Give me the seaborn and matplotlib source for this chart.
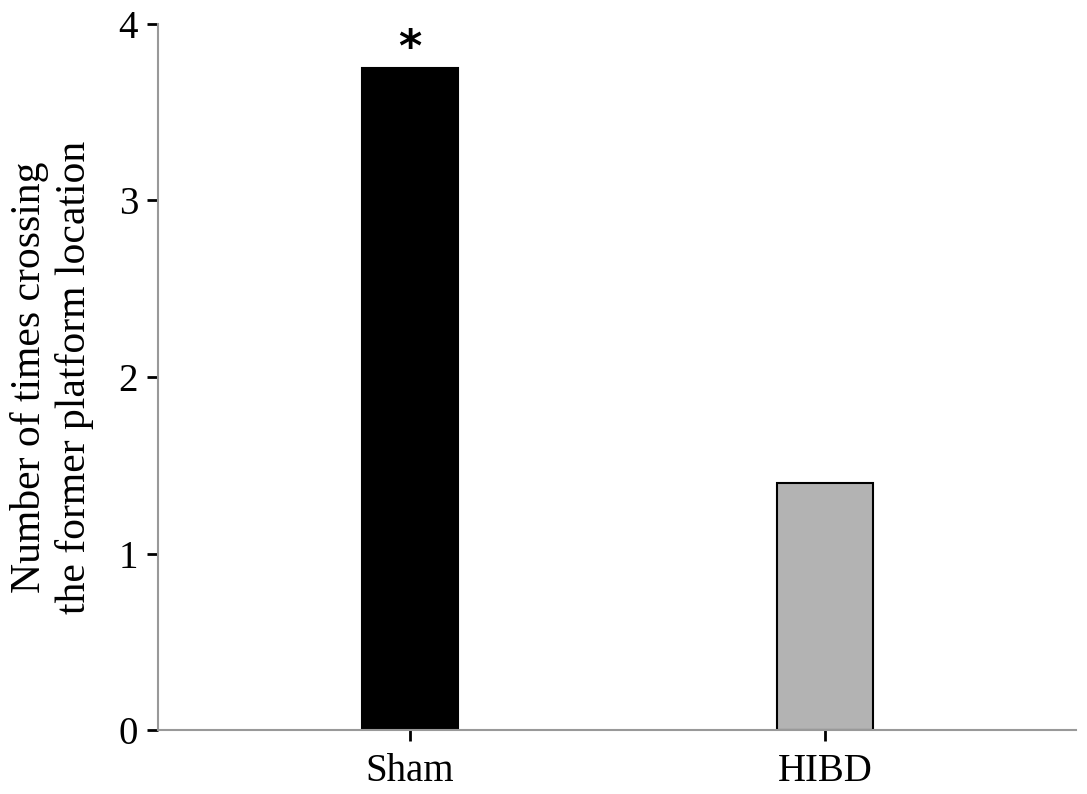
import numpy as np
import pandas as pd
import seaborn as sns
import matplotlib.pyplot as plt

groups = ['Sham', 'HIBD']
crossings = [3.75, 1.4]
bar_colors = ['#000000', '#b3b3b3']
y_ticks = [0, 1, 2, 3, 4]


def plot_crossings(df):
    fig, ax = plt.subplots(figsize=(10.87, 7.94), dpi=100)
    sns.barplot(data=df, x='group', y='crossings', hue='group',
                palette=bar_colors, width=0.232, edgecolor='black',
                linewidth=1.5, legend=False, ax=ax)

    ax.set_xlim(-0.609, 1.606)
    ax.set_ylim(0, 4)
    ax.set_yticks(y_ticks)
    ax.set_xlabel('')
    ax.set_ylabel('Number of times crossing\nthe former platform location',
                  fontsize=30, linespacing=1.2, color='black', labelpad=18)

    # gray spines, only left and bottom
    sns.despine(ax=ax)
    for side in ['left', 'bottom']:
        ax.spines[side].set_color('#999999')
        ax.spines[side].set_linewidth(1.5)
    ax.tick_params(axis='both', direction='out', length=8, width=2,
                   color='black', labelsize=28, labelcolor='black')
    ax.tick_params(axis='y', pad=6)
    ax.tick_params(axis='x', pad=8)

    # significance mark over Sham
    ax.text(0, crossings[0] - 0.01, '*', ha='center', va='bottom',
            fontsize=32, fontweight='bold', family='DejaVu Sans',
            color='black')

    fig.subplots_adjust(left=0.145, right=0.99, top=0.97, bottom=0.08)
    fig.savefig('out.png', dpi=100)


def main():
    sns.set_style('ticks')
    plt.rcParams['font.family'] = ['Liberation Serif', 'DejaVu Serif']
    df = pd.DataFrame({'group': groups, 'crossings': crossings})
    plot_crossings(df)


if __name__ == '__main__':
    main()
